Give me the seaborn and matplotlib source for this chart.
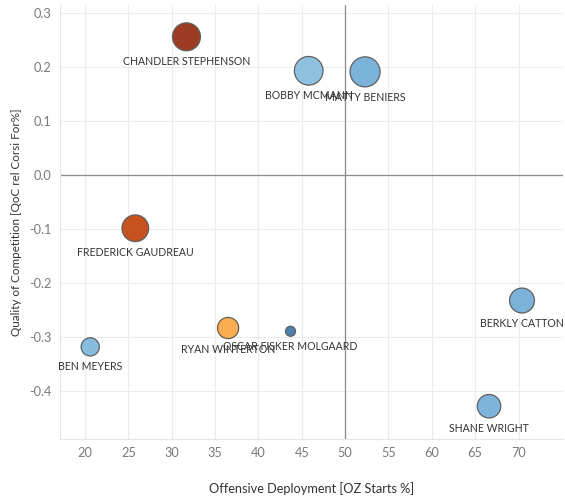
import numpy as np
import pandas as pd
import matplotlib
matplotlib.use("Agg")
import matplotlib.pyplot as plt
import seaborn as sns

# Datos
jugadores = ['CHANDLER STEPHENSON', 'BOBBY MCMANN', 'MATTY BENIERS', 'FREDERICK GAUDREAU',
             'BERKLY CATTON', 'RYAN WINTERTON', 'OSCAR FISKER MOLGAARD', 'BEN MEYERS', 'SHANE WRIGHT']
oz_starts = [31.7, 45.8, 52.3, 25.8, 70.4, 36.5, 43.7, 20.6, 66.6]
qoc = [0.256, 0.193, 0.191, -0.099, -0.233, -0.284, -0.290, -0.319, -0.429]
tamano = [78, 82, 90, 71, 62, 45, 10, 33, 55]
colores = ['#9c3c22', '#8ec1e0', '#7bb3da', '#c5521f', '#7cb2da', '#fbad4f', '#4f7fae', '#86bcdf', '#7eb4da']

df = pd.DataFrame({'jugador': jugadores, 'oz': oz_starts, 'qoc': qoc, 'tam': tamano})

sns.set_style("white")
plt.rcParams['font.family'] = ['Lato', 'DejaVu Sans']

fig = plt.figure(figsize=(5.65, 4.99), dpi=100)
ax = fig.add_axes([0.106, 0.12, 0.890, 0.870])

max_area = (30 * 0.72) ** 2
sns.scatterplot(data=df, x='oz', y='qoc', hue='jugador', palette=dict(zip(jugadores, colores)),
                size='tam', sizes=(0, max_area), size_norm=(0, max(tamano)),
                edgecolor='#5f5f5f', linewidth=0.9, legend=False, ax=ax, zorder=3)

# Etiquetas debajo de cada burbuja
for j, x, y, t in zip(jugadores, oz_starts, qoc, tamano):
    r = np.sqrt(t / max(tamano) * max_area) / 2
    ax.annotate(j, (x, y), xytext=(0, -(r + 7.6)), textcoords='offset points',
                ha='center', va='center', fontsize=7.6, color='#333333', zorder=4)

ax.axvline(50, color='#8c8c8c', lw=0.9, zorder=1)
ax.axhline(0, color='#8c8c8c', lw=0.9, zorder=1)

ax.set_xlim(17.1, 75.1)
ax.set_ylim(-0.490, 0.315)
ax.set_xticks(np.arange(20, 75, 5))
ax.set_yticks([-0.4, -0.3, -0.2, -0.1, 0.0, 0.1, 0.2, 0.3])
ax.set_yticklabels(['-0.4', '-0.3', '-0.2', '-0.1', '0.0', '0.1', '0.2', '0.3'])
ax.grid(True, color='#ececec', lw=0.8, zorder=0)
ax.set_axisbelow(True)

for s in ['top', 'right']:
    ax.spines[s].set_visible(False)
for s in ['left', 'bottom']:
    ax.spines[s].set_color('#e6e6e6')
    ax.spines[s].set_linewidth(0.8)

ax.tick_params(axis='both', length=0, labelsize=9.2, labelcolor='#7a7a7a', pad=6)
ax.set_xlabel('Offensive Deployment [OZ Starts %]', fontsize=9.2, color='#333333', labelpad=16)
ax.set_ylabel('Quality of Competition [QoC rel Corsi For%]', fontsize=8.4, color='#333333', labelpad=5)

fig.savefig('out.png', dpi=100)
